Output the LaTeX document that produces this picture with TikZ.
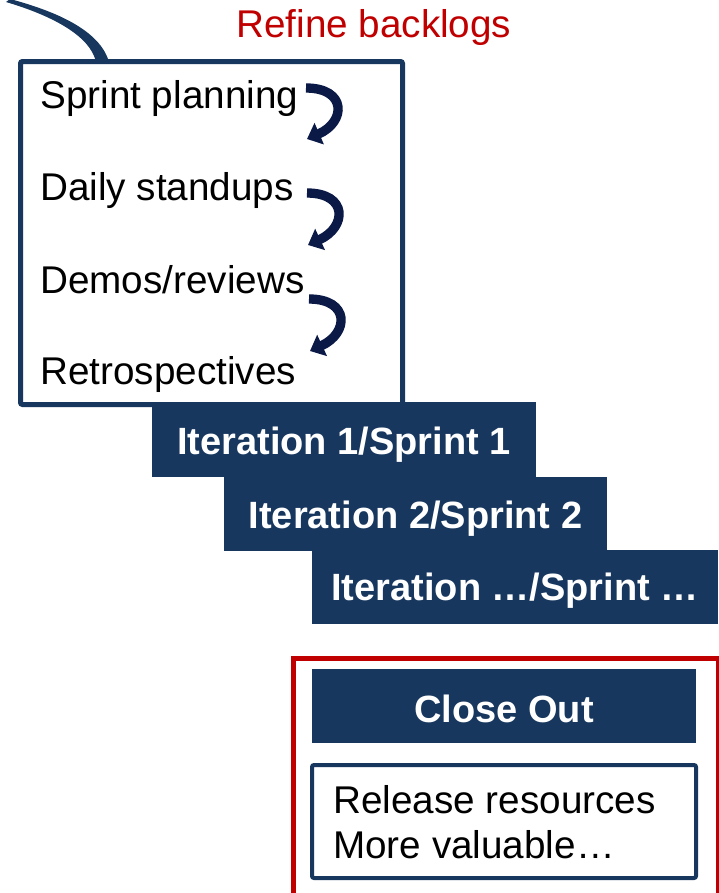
\documentclass[tikz,border=0pt]{standalone}
\usepackage{fontspec}
\setmainfont{Liberation Sans}
\usetikzlibrary{arrows.meta,calc}
\definecolor{navy}{RGB}{23,55,94}
\definecolor{inknavy}{RGB}{10,25,70}
\definecolor{darkred}{RGB}{192,0,0}
\begin{document}
\begin{tikzpicture}[x=0.75pt,y=-0.75pt,
  bodytext/.style={font=\fontsize{29}{33}\selectfont, inner sep=0pt, anchor=base west},
  boldtext/.style={font=\fontsize{28.5}{33}\selectfont\bfseries, text=white, inner sep=0pt, anchor=base},
  solidbox/.style={fill=navy, draw=none, inner sep=0pt, outer sep=0pt, anchor=north west},
  framebox/.style={draw=navy, fill=white, inner sep=0pt, rounded corners=1.5pt},
  turn/.style={draw=inknavy, line width=7pt, -{Triangle[length=10pt,width=17pt]}}]
\useasboundingbox (0,0) rectangle (718,893);

% leader line coming in from the upper left
\fill[navy] (10,-1) .. controls (55,11) and (100,30) .. (109,62)
  -- (96,62) .. controls (90,35) and (50,15) .. (6,2) -- cycle;

% activity box of one sprint
\node[framebox, line width=3.75pt, minimum width=286.5pt, minimum height=257.25pt]
  (act) at (211.5,233) {};

\node[bodytext, text=darkred] (refine) at (236,37) {Refine backlogs};
\node[bodytext] (plan)  at (40,108) {Sprint planning};
\node[bodytext] (daily) at (40,200) {Daily standups};
\node[bodytext] (demo)  at (40,293) {Demos/reviews};
\node[bodytext] (retro) at (40,384) {Retrospectives};

% turning arrows between the activities
\coordinate (a1s) at (306,88);  \coordinate (a1e) at (307,139);
\coordinate (a2s) at (307,193); \coordinate (a2e) at (308,245);
\coordinate (a3s) at (309,299); \coordinate (a3e) at (310,351);
\draw[turn] (a1s) .. controls (347,88) and (346,122) .. (a1e);
\draw[turn] (a2s) .. controls (348,193) and (347,227) .. (a2e);
\draw[turn] (a3s) .. controls (350,299) and (349,333) .. (a3e);

% staircase of iterations
\node[solidbox, minimum width=288pt, minimum height=56.25pt] (it1) at (152,402) {};
\node[solidbox, minimum width=287.25pt, minimum height=55.5pt] (it2) at (224,477) {};
\node[solidbox, minimum width=304.5pt, minimum height=55.5pt] (it3) at (312,550) {};
\node[boldtext] (it1t) at ($(it1.center)+(0,15)$) {Iteration 1/Sprint 1};
\node[boldtext] (it2t) at ($(it2.center)+(0,14)$) {Iteration 2/Sprint 2};
\node[boldtext] (it3t) at ($(it3.center)+(0,13)$) {Iteration …/Sprint …};

% close out phase
\node[draw=darkred, line width=3.75pt, inner sep=0pt, anchor=north west,
  minimum width=318.75pt, minimum height=195pt] (phase) at (290.5,655.5) {};
\node[solidbox, minimum width=288pt, minimum height=55.5pt] (close) at (312,669) {};
\node[boldtext] (closet) at ($(close.center)+(0,16)$) {Close Out};
\node[framebox, line width=3pt, minimum width=288pt, minimum height=84.75pt]
  (rel) at (504,821.5) {};
\node[bodytext] (relt) at (333,813) {Release resources};
\node[bodytext] (valt) at (333,858) {More valuable…};
\end{tikzpicture}
\end{document}
